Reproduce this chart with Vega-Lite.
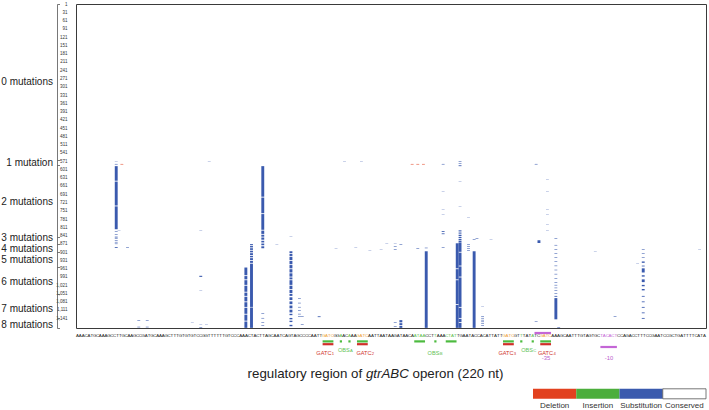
{
  "$schema": "https://vega.github.io/schema/vega-lite/v6.json",
  "padding": {"left": 0, "top": 0, "right": 3, "bottom": 1},
  "background": "white",
  "config": {"font": "Liberation Sans", "view": {"stroke": null}},
  "spacing": 5,
  "bounds": "flush",
  "datasets": {
    "calls": [
      {"pos":13,"first":571,"last":572,"type":"Substitution"},{"pos":13,"first":581,"last":583,"type":"Substitution"},{"pos":13,"first":589,"last":642,"type":"Substitution"},{"pos":13,"first":645,"last":732,"type":"Substitution"},{"pos":13,"first":735,"last":818,"type":"Substitution"},{"pos":13,"first":825,"last":827,"type":"Substitution"},{"pos":13,"first":836,"last":838,"type":"Substitution"},{"pos":13,"first":845,"last":848,"type":"Substitution"},{"pos":13,"first":851,"last":853,"type":"Substitution"},{"pos":13,"first":858,"last":860,"type":"Substitution"},{"pos":13,"first":864,"last":866,"type":"Substitution"},{"pos":13,"first":870,"last":872,"type":"Substitution"},{"pos":13,"first":883,"last":886,"type":"Substitution"},
      {"pos":14,"first":822,"last":823,"type":"Substitution"},
      {"pos":15,"first":581,"last":583,"type":"Deletion"},
      {"pos":17,"first":883,"last":885,"type":"Substitution"},
      {"pos":21,"first":1148,"last":1150,"type":"Substitution"},{"pos":21,"first":1172,"last":1174,"type":"Substitution"},
      {"pos":24,"first":1148,"last":1150,"type":"Substitution"},{"pos":24,"first":1172,"last":1174,"type":"Substitution"},
      {"pos":40,"first":1155,"last":1156,"type":"Substitution"},
      {"pos":43,"first":822,"last":823,"type":"Substitution"},{"pos":43,"first":987,"last":991,"type":"Substitution"},{"pos":43,"first":1039,"last":1040,"type":"Substitution"},{"pos":43,"first":1164,"last":1165,"type":"Substitution"},{"pos":43,"first":1173,"last":1175,"type":"Substitution"},
      {"pos":45,"first":1164,"last":1165,"type":"Substitution"},
      {"pos":46,"first":571,"last":572,"type":"Substitution"},
      {"pos":59,"first":957,"last":985,"type":"Substitution"},{"pos":59,"first":988,"last":1000,"type":"Substitution"},{"pos":59,"first":1003,"last":1020,"type":"Substitution"},{"pos":59,"first":1023,"last":1045,"type":"Substitution"},{"pos":59,"first":1048,"last":1060,"type":"Substitution"},{"pos":59,"first":1063,"last":1080,"type":"Substitution"},{"pos":59,"first":1083,"last":1100,"type":"Substitution"},{"pos":59,"first":1103,"last":1125,"type":"Substitution"},{"pos":59,"first":1128,"last":1150,"type":"Substitution"},{"pos":59,"first":1153,"last":1176,"type":"Substitution"},
      {"pos":61,"first":872,"last":876,"type":"Substitution"},{"pos":61,"first":879,"last":884,"type":"Substitution"},{"pos":61,"first":887,"last":893,"type":"Substitution"},{"pos":61,"first":896,"last":902,"type":"Substitution"},{"pos":61,"first":905,"last":912,"type":"Substitution"},{"pos":61,"first":915,"last":920,"type":"Substitution"},{"pos":61,"first":923,"last":930,"type":"Substitution"},{"pos":61,"first":933,"last":940,"type":"Substitution"},{"pos":61,"first":943,"last":1100,"type":"Substitution"},{"pos":61,"first":1102,"last":1176,"type":"Substitution"},
      {"pos":65,"first":589,"last":700,"type":"Substitution"},{"pos":65,"first":703,"last":760,"type":"Substitution"},{"pos":65,"first":763,"last":820,"type":"Substitution"},{"pos":65,"first":823,"last":835,"type":"Substitution"},{"pos":65,"first":838,"last":845,"type":"Substitution"},{"pos":65,"first":848,"last":856,"type":"Substitution"},{"pos":65,"first":860,"last":866,"type":"Substitution"},{"pos":65,"first":870,"last":876,"type":"Substitution"},{"pos":65,"first":880,"last":887,"type":"Substitution"},{"pos":65,"first":1123,"last":1125,"type":"Substitution"},{"pos":65,"first":1140,"last":1142,"type":"Substitution"},{"pos":65,"first":1155,"last":1157,"type":"Substitution"},{"pos":65,"first":1167,"last":1169,"type":"Substitution"},
      {"pos":70,"first":872,"last":873,"type":"Substitution"},
      {"pos":75,"first":843,"last":844,"type":"Substitution"},{"pos":75,"first":898,"last":905,"type":"Substitution"},{"pos":75,"first":908,"last":915,"type":"Substitution"},{"pos":75,"first":918,"last":930,"type":"Substitution"},{"pos":75,"first":933,"last":945,"type":"Substitution"},{"pos":75,"first":948,"last":960,"type":"Substitution"},{"pos":75,"first":963,"last":975,"type":"Substitution"},{"pos":75,"first":978,"last":990,"type":"Substitution"},{"pos":75,"first":993,"last":1000,"type":"Substitution"},{"pos":75,"first":1003,"last":1020,"type":"Substitution"},{"pos":75,"first":1023,"last":1035,"type":"Substitution"},{"pos":75,"first":1038,"last":1050,"type":"Substitution"},{"pos":75,"first":1053,"last":1060,"type":"Substitution"},{"pos":75,"first":1065,"last":1075,"type":"Substitution"},{"pos":75,"first":1080,"last":1090,"type":"Substitution"},{"pos":75,"first":1095,"last":1105,"type":"Substitution"},{"pos":75,"first":1110,"last":1120,"type":"Substitution"},{"pos":75,"first":1125,"last":1130,"type":"Substitution"},{"pos":75,"first":1140,"last":1145,"type":"Substitution"},{"pos":75,"first":1150,"last":1155,"type":"Substitution"},{"pos":75,"first":1165,"last":1170,"type":"Substitution"},
      {"pos":78,"first":1069,"last":1071,"type":"Substitution"},{"pos":78,"first":1085,"last":1087,"type":"Substitution"},{"pos":78,"first":1100,"last":1102,"type":"Substitution"},{"pos":78,"first":1112,"last":1114,"type":"Substitution"},{"pos":78,"first":1125,"last":1127,"type":"Substitution"},{"pos":78,"first":1133,"last":1135,"type":"Substitution"},
      {"pos":79,"first":1134,"last":1136,"type":"Substitution"},{"pos":79,"first":1163,"last":1165,"type":"Substitution"},
      {"pos":85,"first":1134,"last":1137,"type":"Substitution"},
      {"pos":91,"first":887,"last":888,"type":"Substitution"},
      {"pos":94,"first":571,"last":572,"type":"Substitution"},
      {"pos":98,"first":883,"last":884,"type":"Substitution"},
      {"pos":100,"first":571,"last":572,"type":"Substitution"},
      {"pos":103,"first":894,"last":895,"type":"Substitution"},
      {"pos":107,"first":891,"last":892,"type":"Substitution"},
      {"pos":109,"first":869,"last":870,"type":"Substitution"},
      {"pos":112,"first":869,"last":870,"type":"Substitution"},{"pos":112,"first":880,"last":882,"type":"Substitution"},{"pos":112,"first":891,"last":893,"type":"Substitution"},{"pos":112,"first":1155,"last":1157,"type":"Substitution"},{"pos":112,"first":1170,"last":1172,"type":"Substitution"},
      {"pos":114,"first":872,"last":874,"type":"Substitution"},{"pos":114,"first":1148,"last":1156,"type":"Substitution"},{"pos":114,"first":1159,"last":1166,"type":"Substitution"},{"pos":114,"first":1169,"last":1176,"type":"Substitution"},
      {"pos":118,"first":581,"last":583,"type":"Deletion"},{"pos":120,"first":581,"last":583,"type":"Deletion"},{"pos":122,"first":581,"last":583,"type":"Deletion"},
      {"pos":120,"first":887,"last":889,"type":"Substitution"},
      {"pos":123,"first":885,"last":887,"type":"Substitution"},{"pos":123,"first":898,"last":1176,"type":"Substitution"},
      {"pos":129,"first":581,"last":583,"type":"Substitution"},{"pos":129,"first":680,"last":681,"type":"Substitution"},{"pos":129,"first":745,"last":746,"type":"Substitution"},{"pos":129,"first":764,"last":765,"type":"Substitution"},{"pos":129,"first":825,"last":828,"type":"Substitution"},{"pos":129,"first":833,"last":836,"type":"Substitution"},{"pos":129,"first":883,"last":885,"type":"Substitution"},
      {"pos":134,"first":869,"last":960,"type":"Substitution"},{"pos":134,"first":963,"last":1000,"type":"Substitution"},{"pos":134,"first":1003,"last":1090,"type":"Substitution"},{"pos":134,"first":1093,"last":1176,"type":"Substitution"},
      {"pos":135,"first":571,"last":573,"type":"Substitution"},{"pos":135,"first":578,"last":580,"type":"Substitution"},{"pos":135,"first":586,"last":589,"type":"Substitution"},{"pos":135,"first":644,"last":645,"type":"Substitution"},{"pos":135,"first":734,"last":735,"type":"Substitution"},{"pos":135,"first":822,"last":826,"type":"Substitution"},{"pos":135,"first":830,"last":834,"type":"Substitution"},{"pos":135,"first":838,"last":843,"type":"Substitution"},{"pos":135,"first":846,"last":850,"type":"Substitution"},{"pos":135,"first":853,"last":858,"type":"Substitution"},{"pos":135,"first":860,"last":865,"type":"Substitution"},{"pos":135,"first":866,"last":900,"type":"Substitution"},{"pos":135,"first":903,"last":950,"type":"Substitution"},{"pos":135,"first":953,"last":990,"type":"Substitution"},{"pos":135,"first":993,"last":1100,"type":"Substitution"},{"pos":135,"first":1103,"last":1140,"type":"Substitution"},{"pos":135,"first":1143,"last":1155,"type":"Substitution"},{"pos":135,"first":1158,"last":1176,"type":"Substitution"},
      {"pos":138,"first":774,"last":775,"type":"Substitution"},{"pos":138,"first":872,"last":874,"type":"Substitution"},{"pos":138,"first":880,"last":882,"type":"Substitution"},{"pos":138,"first":887,"last":889,"type":"Substitution"},{"pos":138,"first":894,"last":896,"type":"Substitution"},
      {"pos":140,"first":855,"last":857,"type":"Substitution"},{"pos":140,"first":898,"last":1176,"type":"Substitution"},
      {"pos":141,"first":851,"last":853,"type":"Substitution"},
      {"pos":143,"first":1098,"last":1099,"type":"Substitution"},{"pos":143,"first":1133,"last":1135,"type":"Substitution"},{"pos":143,"first":1140,"last":1142,"type":"Substitution"},{"pos":143,"first":1147,"last":1149,"type":"Substitution"},{"pos":143,"first":1153,"last":1155,"type":"Substitution"},{"pos":143,"first":1160,"last":1162,"type":"Substitution"},{"pos":143,"first":1166,"last":1168,"type":"Substitution"},
      {"pos":146,"first":854,"last":855,"type":"Substitution"},
      {"pos":162,"first":581,"last":583,"type":"Substitution"},{"pos":162,"first":1151,"last":1153,"type":"Substitution"},
      {"pos":163,"first":858,"last":868,"type":"Substitution"},
      {"pos":166,"first":636,"last":637,"type":"Substitution"},{"pos":166,"first":680,"last":681,"type":"Substitution"},{"pos":166,"first":745,"last":746,"type":"Substitution"},{"pos":166,"first":764,"last":765,"type":"Substitution"},{"pos":166,"first":800,"last":801,"type":"Substitution"},{"pos":166,"first":822,"last":823,"type":"Substitution"},
      {"pos":169,"first":851,"last":853,"type":"Substitution"},{"pos":169,"first":875,"last":877,"type":"Substitution"},{"pos":169,"first":890,"last":892,"type":"Substitution"},{"pos":169,"first":905,"last":907,"type":"Substitution"},{"pos":169,"first":920,"last":922,"type":"Substitution"},{"pos":169,"first":935,"last":937,"type":"Substitution"},{"pos":169,"first":950,"last":952,"type":"Substitution"},{"pos":169,"first":965,"last":967,"type":"Substitution"},{"pos":169,"first":980,"last":982,"type":"Substitution"},{"pos":169,"first":995,"last":997,"type":"Substitution"},{"pos":169,"first":1010,"last":1012,"type":"Substitution"},{"pos":169,"first":1020,"last":1022,"type":"Substitution"},{"pos":169,"first":1030,"last":1032,"type":"Substitution"},{"pos":169,"first":1040,"last":1042,"type":"Substitution"},{"pos":169,"first":1050,"last":1052,"type":"Substitution"},{"pos":169,"first":1060,"last":1063,"type":"Substitution"},{"pos":169,"first":1068,"last":1145,"type":"Substitution"},
      {"pos":170,"first":1173,"last":1175,"type":"Substitution"},
      {"pos":183,"first":897,"last":898,"type":"Substitution"},
      {"pos":190,"first":1133,"last":1135,"type":"Substitution"},
      {"pos":198,"first":941,"last":942,"type":"Substitution"},
      {"pos":200,"first":891,"last":893,"type":"Substitution"},{"pos":200,"first":905,"last":907,"type":"Substitution"},{"pos":200,"first":920,"last":922,"type":"Substitution"},{"pos":200,"first":935,"last":940,"type":"Substitution"},{"pos":200,"first":950,"last":953,"type":"Substitution"},{"pos":200,"first":960,"last":975,"type":"Substitution"},{"pos":200,"first":985,"last":990,"type":"Substitution"},{"pos":200,"first":1000,"last":1010,"type":"Substitution"},{"pos":200,"first":1020,"last":1025,"type":"Substitution"},{"pos":200,"first":1035,"last":1040,"type":"Substitution"},{"pos":200,"first":1060,"last":1063,"type":"Substitution"},{"pos":200,"first":1080,"last":1083,"type":"Substitution"},{"pos":200,"first":1100,"last":1103,"type":"Substitution"},{"pos":200,"first":1120,"last":1123,"type":"Substitution"},{"pos":200,"first":1140,"last":1143,"type":"Substitution"},
      {"pos":220,"first":891,"last":892,"type":"Substitution"}
    ],
    "groups": [
      {"label":"0 mutations","first":1,"last":565},
      {"label":"1 mutation","first":566,"last":585},
      {"label":"2 mutations","first":586,"last":847},
      {"label":"3 mutations","first":848,"last":872},
      {"label":"4 mutations","first":873,"last":900},
      {"label":"5 mutations","first":901,"last":956},
      {"label":"6 mutations","first":957,"last":1053},
      {"label":"7 mutations","first":1054,"last":1140},
      {"label":"8 mutations","first":1141,"last":1176}
    ],
    "sequence": [
      {"pos":1,"base":"A"},{"pos":2,"base":"A"},{"pos":3,"base":"A"},{"pos":4,"base":"C"},{"pos":5,"base":"A"},{"pos":6,"base":"T"},{"pos":7,"base":"G"},{"pos":8,"base":"C"},{"pos":9,"base":"A"},{"pos":10,"base":"A"},
      {"pos":11,"base":"A"},{"pos":12,"base":"G"},{"pos":13,"base":"C"},{"pos":14,"base":"C"},{"pos":15,"base":"T"},{"pos":16,"base":"T"},{"pos":17,"base":"G"},{"pos":18,"base":"C"},{"pos":19,"base":"A"},{"pos":20,"base":"A"},
      {"pos":21,"base":"G"},{"pos":22,"base":"C"},{"pos":23,"base":"C"},{"pos":24,"base":"G"},{"pos":25,"base":"A"},{"pos":26,"base":"T"},{"pos":27,"base":"G"},{"pos":28,"base":"C"},{"pos":29,"base":"A"},{"pos":30,"base":"A"},
      {"pos":31,"base":"A"},{"pos":32,"base":"G"},{"pos":33,"base":"C"},{"pos":34,"base":"T"},{"pos":35,"base":"T"},{"pos":36,"base":"T"},{"pos":37,"base":"G"},{"pos":38,"base":"T"},{"pos":39,"base":"G"},{"pos":40,"base":"T"},
      {"pos":41,"base":"G"},{"pos":42,"base":"T"},{"pos":43,"base":"C"},{"pos":44,"base":"C"},{"pos":45,"base":"G"},{"pos":46,"base":"G"},{"pos":47,"base":"T"},{"pos":48,"base":"T"},{"pos":49,"base":"T"},{"pos":50,"base":"T"},
      {"pos":51,"base":"T"},{"pos":52,"base":"T"},{"pos":53,"base":"G"},{"pos":54,"base":"T"},{"pos":55,"base":"C"},{"pos":56,"base":"C"},{"pos":57,"base":"C"},{"pos":58,"base":"A"},{"pos":59,"base":"A"},{"pos":60,"base":"A"},
      {"pos":61,"base":"C"},{"pos":62,"base":"T"},{"pos":63,"base":"A"},{"pos":64,"base":"C"},{"pos":65,"base":"T"},{"pos":66,"base":"T"},{"pos":67,"base":"A"},{"pos":68,"base":"G"},{"pos":69,"base":"C"},{"pos":70,"base":"A"},
      {"pos":71,"base":"A"},{"pos":72,"base":"T"},{"pos":73,"base":"C"},{"pos":74,"base":"A"},{"pos":75,"base":"G"},{"pos":76,"base":"T"},{"pos":77,"base":"A"},{"pos":78,"base":"G"},{"pos":79,"base":"C"},{"pos":80,"base":"C"},
      {"pos":81,"base":"C"},{"pos":82,"base":"C"},{"pos":83,"base":"A"},{"pos":84,"base":"A"},{"pos":85,"base":"T"},{"pos":86,"base":"T"},{"pos":87,"base":"G","site":"GATC"},{"pos":88,"base":"A","site":"GATC"},{"pos":89,"base":"T","site":"GATC"},{"pos":90,"base":"C","site":"GATC"},
      {"pos":91,"base":"G"},{"pos":92,"base":"G"},{"pos":93,"base":"A","site":"OBS"},{"pos":94,"base":"A"},{"pos":95,"base":"C"},{"pos":96,"base":"A","site":"OBS"},{"pos":97,"base":"A"},{"pos":98,"base":"A"},{"pos":99,"base":"G","site":"GATC"},{"pos":100,"base":"A","site":"GATC"},
      {"pos":101,"base":"T","site":"GATC"},{"pos":102,"base":"C","site":"GATC"},{"pos":103,"base":"A"},{"pos":104,"base":"A"},{"pos":105,"base":"T"},{"pos":106,"base":"T"},{"pos":107,"base":"A"},{"pos":108,"base":"A"},{"pos":109,"base":"T"},{"pos":110,"base":"A"},
      {"pos":111,"base":"A"},{"pos":112,"base":"G"},{"pos":113,"base":"A"},{"pos":114,"base":"T"},{"pos":115,"base":"A"},{"pos":116,"base":"A"},{"pos":117,"base":"C"},{"pos":118,"base":"A"},{"pos":119,"base":"A","site":"OBS"},{"pos":120,"base":"T","site":"OBS"},
      {"pos":121,"base":"A","site":"OBS"},{"pos":122,"base":"A","site":"OBS"},{"pos":123,"base":"C"},{"pos":124,"base":"C"},{"pos":125,"base":"T"},{"pos":126,"base":"T","site":"OBS"},{"pos":127,"base":"A"},{"pos":128,"base":"A"},{"pos":129,"base":"A"},{"pos":130,"base":"C","site":"OBS"},
      {"pos":131,"base":"T","site":"OBS"},{"pos":132,"base":"A","site":"OBS"},{"pos":133,"base":"T","site":"OBS"},{"pos":134,"base":"T"},{"pos":135,"base":"G"},{"pos":136,"base":"A"},{"pos":137,"base":"A"},{"pos":138,"base":"T"},{"pos":139,"base":"A"},{"pos":140,"base":"C"},
      {"pos":141,"base":"C"},{"pos":142,"base":"A"},{"pos":143,"base":"C"},{"pos":144,"base":"A"},{"pos":145,"base":"T"},{"pos":146,"base":"T"},{"pos":147,"base":"A"},{"pos":148,"base":"T"},{"pos":149,"base":"T"},{"pos":150,"base":"G","site":"GATC"},
      {"pos":151,"base":"A","site":"GATC"},{"pos":152,"base":"T","site":"GATC"},{"pos":153,"base":"C","site":"GATC"},{"pos":154,"base":"G"},{"pos":155,"base":"T"},{"pos":156,"base":"T","site":"OBS"},{"pos":157,"base":"T"},{"pos":158,"base":"A"},{"pos":159,"base":"T"},{"pos":160,"base":"A","site":"OBS"},
      {"pos":161,"base":"T"},{"pos":162,"base":"C"},{"pos":163,"base":"G","site":"GATC"},{"pos":164,"base":"A","site":"GATC"},{"pos":165,"base":"T","site":"GATC"},{"pos":166,"base":"C","site":"GATC"},{"pos":167,"base":"A"},{"pos":168,"base":"A"},{"pos":169,"base":"A"},{"pos":170,"base":"G"},
      {"pos":171,"base":"C"},{"pos":172,"base":"A"},{"pos":173,"base":"A"},{"pos":174,"base":"T"},{"pos":175,"base":"T"},{"pos":176,"base":"T"},{"pos":177,"base":"G"},{"pos":178,"base":"T"},{"pos":179,"base":"A"},{"pos":180,"base":"G"},
      {"pos":181,"base":"T"},{"pos":182,"base":"G"},{"pos":183,"base":"C"},{"pos":184,"base":"T","site":"promoter"},{"pos":185,"base":"A","site":"promoter"},{"pos":186,"base":"C","site":"promoter"},{"pos":187,"base":"A","site":"promoter"},{"pos":188,"base":"C","site":"promoter"},{"pos":189,"base":"T","site":"promoter"},{"pos":190,"base":"C"},
      {"pos":191,"base":"C"},{"pos":192,"base":"A"},{"pos":193,"base":"G"},{"pos":194,"base":"A"},{"pos":195,"base":"C"},{"pos":196,"base":"C"},{"pos":197,"base":"T"},{"pos":198,"base":"T"},{"pos":199,"base":"T"},{"pos":200,"base":"C"},
      {"pos":201,"base":"C"},{"pos":202,"base":"G"},{"pos":203,"base":"A"},{"pos":204,"base":"A"},{"pos":205,"base":"T"},{"pos":206,"base":"C"},{"pos":207,"base":"C"},{"pos":208,"base":"G"},{"pos":209,"base":"C"},{"pos":210,"base":"T"},
      {"pos":211,"base":"G"},{"pos":212,"base":"A"},{"pos":213,"base":"T"},{"pos":214,"base":"T"},{"pos":215,"base":"T"},{"pos":216,"base":"T"},{"pos":217,"base":"C"},{"pos":218,"base":"A"},{"pos":219,"base":"T"},{"pos":220,"base":"A"}
    ],
    "features": [
      {"feature":"OBS","start":87,"end":90},{"feature":"OBS","start":93,"end":93},{"feature":"OBS","start":96,"end":96},{"feature":"OBS","start":99,"end":102},
      {"feature":"OBS","start":119,"end":122},{"feature":"OBS","start":126,"end":126},{"feature":"OBS","start":130,"end":133},
      {"feature":"OBS","start":150,"end":153},{"feature":"OBS","start":156,"end":156},{"feature":"OBS","start":160,"end":160},{"feature":"OBS","start":163,"end":166},
      {"feature":"GATC","start":87,"end":90},{"feature":"GATC","start":99,"end":102},{"feature":"GATC","start":150,"end":153},{"feature":"GATC","start":163,"end":166},
      {"feature":"-35 box","start":161,"end":166},
      {"feature":"-10 box","start":184,"end":189}
    ],
    "labels": [
      {"name":"GATC","sub":"1","pos":89.7,"feature":"GATC","line":"lower label"},
      {"name":"OBS","sub":"A","pos":96.1,"feature":"OBS","line":"upper label"},
      {"name":"GATC","sub":"2","pos":103.7,"feature":"GATC","line":"lower label"},
      {"name":"OBS","sub":"B","pos":127.4,"feature":"OBS","line":"lower label"},
      {"name":"GATC","sub":"3","pos":153.3,"feature":"GATC","line":"lower label"},
      {"name":"OBS","sub":"C","pos":160.1,"feature":"OBS","line":"upper label"},
      {"name":"GATC","sub":"4","pos":167.1,"feature":"GATC","line":"lower label"},
      {"name":"-35","pos":164.6,"feature":"-35 box","line":"promoter label"},
      {"name":"-10","pos":186.6,"feature":"-10 box","line":"promoter label"}
    ],
    "title": [
      {"part":1,"text":"regulatory region of"},
      {"part":2,"text":"gtrABC"},
      {"part":3,"text":"operon (220 nt)"}
    ],
    "legend": [
      {"type":"Deletion"},{"type":"Insertion"},{"type":"Substitution"},{"type":"Conserved"}
    ]
  },
  "vconcat": [
    {
      "width": 630,
      "height": 324,
      "view": {"stroke": "#3a3a3a", "strokeWidth": 1},
      "layer": [
        {
          "data": {"name": "calls"},
          "mark": {"type": "bar", "width": 2.9},
          "encoding": {
            "x": {"field": "pos", "type": "quantitative", "scale": {"domain": [0.5, 220.5], "nice": false, "zero": false}, "axis": null},
            "y": {
              "field": "first", "type": "quantitative",
              "scale": {"domain": [0.5, 1176.5], "nice": false, "zero": false, "reverse": true},
              "axis": {
                "orient": "left", "title": null, "grid": false, "ticks": false, "domain": false,
                "values": [1,31,61,91,121,151,181,211,241,271,301,331,361,391,421,451,481,511,541,571,601,631,661,691,721,751,781,811,841,871,901,931,961,991,1021,1051,1081,1111,1141],
                "labelFontSize": 4.5, "labelColor": "#333", "labelPadding": 9, "labelOverlap": false, "labelFlush": false
              }
            },
            "y2": {"field": "last"},
            "color": {
              "field": "type", "type": "nominal",
              "scale": {"domain": ["Deletion","Insertion","Substitution","Conserved"], "range": ["#e2411f","#4cae3c","#3a5aae","#ffffff"]},
              "legend": null
            }
          }
        },
        {
          "data": {"name": "groups"},
          "mark": {"type": "tick", "opacity": 0},
          "encoding": {
            "y": {
              "field": "first", "type": "quantitative",
              "scale": {"domain": [0.5, 1176.5], "nice": false, "zero": false, "reverse": true},
              "axis": {
                "orient": "left", "title": null, "offset": 19, "grid": false,
                "values": [0.5,565.5,585.5,847.5,872.5,900.5,956.5,1053.5,1140.5,1176.5,283,576,716,849,887,929,1006,1104,1162],
                "domain": true, "domainColor": "#555", "domainWidth": 0.8,
                "ticks": true, "tickSize": -2.5, "tickColor": "#555", "tickWidth": 0.8,
                "tickOpacity": {"condition": {"test": "datum.value % 1 != 0", "value": 1}, "value": 0},
                "labelExpr": "datum.value % 1 != 0 ? '' : datum.value < 400 ? '0 mutations' : datum.value < 650 ? '1 mutation' : datum.value < 800 ? '2 mutations' : datum.value < 870 ? '3 mutations' : datum.value < 900 ? '4 mutations' : datum.value < 950 ? '5 mutations' : datum.value < 1050 ? '6 mutations' : datum.value < 1130 ? '7 mutations' : '8 mutations'",
                "labelFontSize": {"condition": {"test": "datum.value % 1 != 0", "value": 0}, "value": 10},
                "labelColor": "#222", "labelPadding": 7, "labelOverlap": false, "labelFlush": false
              }
            }
          }
        }
      ],
      "resolve": {"axis": {"y": "independent"}}
    },
    {
      "width": 630,
      "height": 25.2,
      "layer": [
        {
          "data": {"name": "sequence"},
          "mark": {"type": "text", "fontSize": 4.4, "align": "center", "baseline": "middle"},
          "encoding": {
            "x": {"field": "pos", "type": "quantitative", "scale": {"domain": [0.5, 220.5], "nice": false, "zero": false}, "axis": null},
            "y": {"datum": "sequence", "type": "nominal", "scale": {"type": "point", "padding": 0, "domain": ["-35 box","sequence","spacer above sites","OBS","GATC","-10 box","upper label","lower label","spacer above promoter labels","promoter label"]}, "axis": null},
            "text": {"field": "base"},
            "color": {
              "condition": {"test": "!datum.site", "value": "#222222"},
              "field": "site", "type": "nominal",
              "scale": {"domain": ["GATC","OBS","promoter"], "range": ["#eea236","#5dbd4c","#c466d6"]},
              "legend": null
            }
          }
        },
        {
          "data": {"name": "features"},
          "mark": {"type": "rule", "strokeWidth": 2.2, "strokeCap": "square"},
          "encoding": {
            "x": {"field": "start", "type": "quantitative"},
            "x2": {"field": "end"},
            "y": {"field": "feature", "type": "nominal"},
            "color": {
              "field": "feature", "type": "nominal",
              "scale": {"domain": ["GATC","OBS","-35 box","-10 box"], "range": ["#d0302a","#4dbb3f","#c466d6","#c466d6"]},
              "legend": null
            }
          }
        },
        {
          "data": {"name": "labels"},
          "transform": [{"filter": "datum.sub"}],
          "mark": {"type": "text", "fontSize": 5.6, "align": "right", "baseline": "middle"},
          "encoding": {
            "x": {"field": "pos", "type": "quantitative"},
            "y": {"field": "line", "type": "nominal"},
            "text": {"field": "name"},
            "color": {
              "field": "feature", "type": "nominal",
              "scale": {"domain": ["GATC","OBS","-35 box","-10 box"], "range": ["#d0342c","#62c255","#b95ccc","#b95ccc"]},
              "legend": null
            }
          }
        },
        {
          "data": {"name": "labels"},
          "transform": [{"filter": "datum.sub"}],
          "mark": {"type": "text", "fontSize": 4.2, "align": "left", "baseline": "middle", "dx": 0.3, "dy": 1.6},
          "encoding": {
            "x": {"field": "pos", "type": "quantitative"},
            "y": {"field": "line", "type": "nominal"},
            "text": {"field": "sub"},
            "color": {
              "field": "feature", "type": "nominal",
              "scale": {"domain": ["GATC","OBS","-35 box","-10 box"], "range": ["#d0342c","#62c255","#b95ccc","#b95ccc"]},
              "legend": null
            }
          }
        },
        {
          "data": {"name": "labels"},
          "transform": [{"filter": "!datum.sub"}],
          "mark": {"type": "text", "fontSize": 5.8, "align": "center", "baseline": "middle"},
          "encoding": {
            "x": {"field": "pos", "type": "quantitative"},
            "y": {"field": "line", "type": "nominal"},
            "text": {"field": "name"},
            "color": {
              "field": "feature", "type": "nominal",
              "scale": {"domain": ["GATC","OBS","-35 box","-10 box"], "range": ["#d0342c","#62c255","#b95ccc","#b95ccc"]},
              "legend": null
            }
          }
        }
      ],
      "resolve": {"scale": {"color": "independent"}}
    },
    {
      "width": 630,
      "height": 34.8,
      "layer": [
        {
          "data": {"name": "legend"},
          "mark": {"type": "rect", "strokeWidth": 0.8},
          "encoding": {
            "x": {
              "field": "type", "type": "nominal", "sort": null,
              "scale": {"type": "band", "domain": ["Deletion","Insertion","Substitution","Conserved"], "range": [457, 630], "paddingInner": 0, "paddingOuter": 0},
              "axis": {"orient": "bottom", "title": null, "ticks": false, "domain": false, "labelAngle": 0, "labelFontSize": 8, "labelColor": "#333", "labelPadding": 3, "labelOverlap": false}
            },
            "y": {"datum": "legend", "type": "nominal", "scale": {"type": "band", "domain": ["title","legend"], "paddingInner": 0.5, "paddingOuter": 0.12, "align": 1}, "axis": null},
            "color": {
              "field": "type", "type": "nominal",
              "scale": {"domain": ["Deletion","Insertion","Substitution","Conserved"], "range": ["#e2411f","#4cae3c","#3a5aae","#ffffff"]},
              "legend": null
            },
            "stroke": {"condition": {"test": "datum.type === 'Conserved'", "value": "#555555"}, "value": null}
          }
        },
        {
          "data": {"name": "title"},
          "transform": [{"filter": "datum.part === 1"}],
          "mark": {"type": "text", "fontSize": 13.3, "align": "right", "baseline": "middle", "dx": -28.8, "color": "#222"},
          "encoding": {"y": {"datum": "title", "type": "nominal"}, "text": {"field": "text"}}
        },
        {
          "data": {"name": "title"},
          "transform": [{"filter": "datum.part === 2"}],
          "mark": {"type": "text", "fontSize": 13.3, "fontStyle": "italic", "align": "left", "baseline": "middle", "dx": -25.1, "color": "#222"},
          "encoding": {"y": {"datum": "title", "type": "nominal"}, "text": {"field": "text"}}
        },
        {
          "data": {"name": "title"},
          "transform": [{"filter": "datum.part === 3"}],
          "mark": {"type": "text", "fontSize": 13.3, "align": "left", "baseline": "middle", "dx": 21.5, "color": "#222"},
          "encoding": {"y": {"datum": "title", "type": "nominal"}, "text": {"field": "text"}}
        }
      ]
    }
  ]
}
